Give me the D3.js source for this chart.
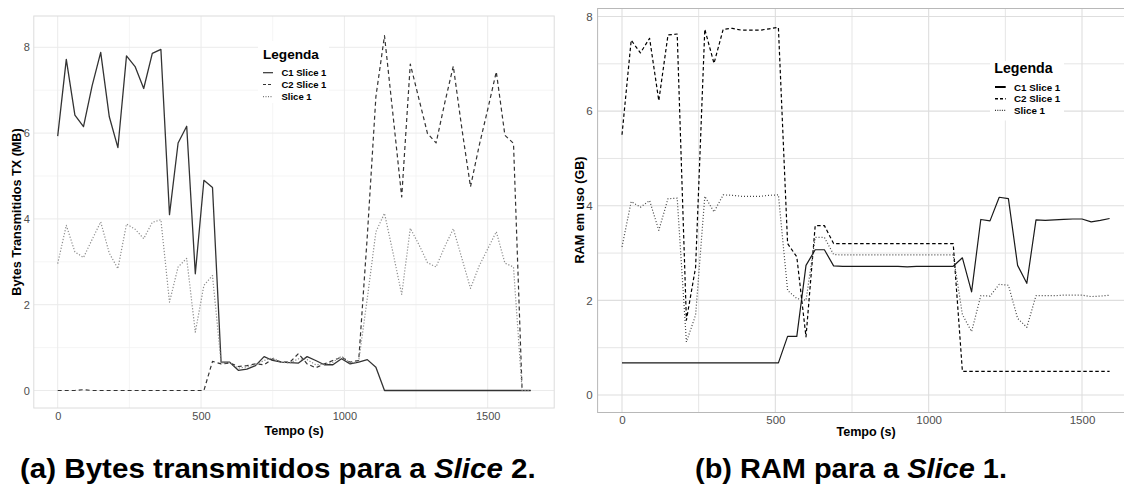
<!DOCTYPE html>
<html><head><meta charset="utf-8">
<script src="https://cdn.jsdelivr.net/npm/d3@7"></script>
<style>body{margin:0;background:#fff;}svg{display:block;font-family:"Liberation Sans",Arial,sans-serif;}</style>
</head><body><svg id="c" width="1124" height="491"></svg>
<script>
// ---------- data: panel (a) bytes transmitted (MB) ----------
const timeA = [0,30,60,90,120,150,180,210,240,270,300,330,360,390,420,450,480,510,540,570,600,630,660,690,720,750,780,810,840,870,900,930,960,990,1020,1050,1080,1110,1140,1170,1200,1230,1260,1290,1320,1350,1380,1410,1440,1470,1500,1530,1560,1590,1620,1650];
const c1A = [5.93,7.72,6.42,6.15,7.10,7.88,6.38,5.66,7.80,7.55,7.04,7.86,7.95,4.10,5.77,6.16,2.72,4.90,4.73,0.66,0.66,0.47,0.50,0.58,0.79,0.70,0.66,0.65,0.64,0.79,0.70,0.60,0.60,0.74,0.62,0.66,0.72,0.54,0,0,0,0,0,0,0,0,0,0,0,0,0,0,0,0,0,0];
const c2A = [0,0,0,0.02,0,0,0,0,0,0,0,0,0,0,0,0,0,0,0.68,0.62,0.64,0.56,0.58,0.62,0.60,0.74,0.66,0.66,0.86,0.62,0.53,0.62,0.70,0.78,0.66,0.70,3.60,6.85,8.27,6.40,4.51,7.61,6.80,5.99,5.77,6.70,7.56,6.10,4.75,5.70,6.55,7.43,5.95,5.76,0,0];
const s1A = [2.96,3.85,3.23,3.10,3.52,3.93,3.20,2.84,3.88,3.76,3.54,3.92,3.98,2.06,2.88,3.08,1.36,2.45,2.68,0.64,0.65,0.52,0.55,0.60,0.70,0.76,0.66,0.64,0.74,0.72,0.60,0.61,0.66,0.80,0.64,0.68,2.15,3.70,4.13,3.20,2.24,3.78,3.40,2.98,2.88,3.35,3.77,3.08,2.38,2.90,3.30,3.70,2.97,2.88,0,0];

// ---------- data: panel (b) RAM in use (GB) ----------
const timeB = [0,30,60,90,120,150,180,210,240,270,300,330,360,390,420,450,480,510,540,570,600,630,660,690,720,750,780,810,840,870,900,930,960,990,1020,1050,1080,1110,1140,1170,1200,1230,1260,1290,1320,1350,1380,1410,1440,1470,1500,1530,1560,1590];
const c1B = [0.68,0.68,0.68,0.68,0.68,0.68,0.68,0.68,0.68,0.68,0.68,0.68,0.68,0.68,0.68,0.68,0.68,0.68,1.24,1.24,2.74,3.07,3.07,2.73,2.72,2.72,2.72,2.72,2.72,2.72,2.72,2.71,2.72,2.72,2.72,2.72,2.72,2.90,2.18,3.71,3.68,4.18,4.15,2.74,2.36,3.70,3.69,3.70,3.71,3.72,3.72,3.66,3.69,3.73];
const c2B = [5.50,7.50,7.23,7.54,6.22,7.61,7.63,1.58,2.70,7.73,7.01,7.73,7.75,7.71,7.71,7.71,7.74,7.77,3.20,2.92,1.23,3.58,3.58,3.20,3.20,3.20,3.20,3.20,3.20,3.20,3.20,3.20,3.20,3.20,3.20,3.20,3.20,0.50,0.50,0.50,0.50,0.50,0.50,0.50,0.50,0.50,0.50,0.50,0.50,0.50,0.50,0.50,0.50,0.50];
const s1B = [3.13,4.09,3.97,4.11,3.48,4.15,4.16,1.12,1.69,4.20,3.87,4.23,4.22,4.20,4.20,4.20,4.22,4.23,2.21,2.04,2.00,3.33,3.33,2.97,2.96,2.96,2.96,2.96,2.96,2.96,2.96,2.96,2.96,2.96,2.96,2.96,2.96,1.70,1.34,2.10,2.09,2.34,2.32,1.62,1.43,2.10,2.10,2.10,2.11,2.11,2.11,2.08,2.09,2.11];

const seriesNames = ["C1 Slice 1","C2 Slice 1","Slice 1"];
const xTicks = [0,500,1000,1500];
const xMinor = [250,750,1250];
const yTicks = [0,2,4,6,8];
const yMinor = [1,3,5,7];

const svg = d3.select("#c");

function panel(o){
  const g = svg.append("g");
  const x = d3.scaleLinear().domain([0,1500]).range(o.xRange);
  const y = d3.scaleLinear().domain([0,8]).range(o.yRange);
  const L=o.box[0], T=o.box[1], R=o.box[2], B=o.box[3];
  const clipId = "clip"+o.id;
  svg.append("clipPath").attr("id",clipId).append("rect").attr("x",L).attr("y",T).attr("width",R-L).attr("height",B-T);
  const grid = g.append("g").attr("clip-path",`url(#${clipId})`);
  grid.selectAll(".ymin").data(yMinor).join("line").attr("x1",L).attr("x2",R).attr("y1",d=>y(d)).attr("y2",d=>y(d)).attr("stroke",o.gridMinor).attr("stroke-width",o.gwMinor);
  grid.selectAll(".xmin").data(xMinor).join("line").attr("y1",T).attr("y2",B).attr("x1",d=>x(d)).attr("x2",d=>x(d)).attr("stroke",o.gridMinor).attr("stroke-width",o.gwMinor);
  grid.selectAll(".ymaj").data(yTicks).join("line").attr("x1",L).attr("x2",R).attr("y1",d=>y(d)).attr("y2",d=>y(d)).attr("stroke",o.gridMajor).attr("stroke-width",o.gwMajor);
  grid.selectAll(".xmaj").data(xTicks).join("line").attr("y1",T).attr("y2",B).attr("x1",d=>x(d)).attr("x2",d=>x(d)).attr("stroke",o.gridMajor).attr("stroke-width",o.gwMajor);
  g.append("rect").attr("x",L).attr("y",T).attr("width",R-L).attr("height",B-T).attr("fill","none").attr("stroke",o.border).attr("stroke-width",1);

  // tick labels via axes
  const ax = g.append("g").attr("transform",`translate(0,${B})`)
    .call(d3.axisBottom(x).tickValues(xTicks).tickSize(0).tickFormat(d3.format("d")));
  ax.select(".domain").remove();
  ax.selectAll("text").attr("y",o.xLabY-B).attr("dy","0.35em").attr("fill","#4d4d4d").attr("font-size",o.tickFs);
  const ay = g.append("g").attr("transform",`translate(${L},0)`)
    .call(d3.axisLeft(y).tickValues(yTicks).tickSize(0).tickPadding(o.yPad).tickFormat(d3.format("d")));
  ay.select(".domain").remove();
  ay.selectAll("text").attr("fill","#4d4d4d").attr("font-size",o.tickFs);

  // lines
  const lines = g.append("g").attr("clip-path",`url(#${clipId})`);
  const mk = (vals)=> d3.line().x((d,i)=>x(o.time[i])).y(d=>y(d))(vals);
  o.series.forEach((s,i)=>{
    lines.append("path").attr("d",mk(s)).attr("fill","none")
      .attr("stroke",o.styles[i].color).attr("stroke-width",o.styles[i].w)
      .attr("stroke-dasharray",o.styles[i].dash).attr("stroke-linejoin","round");
  });

  // axis titles
  g.append("text").attr("x",o.xTitle[0]).attr("y",o.xTitle[1]).attr("dy","0.35em").attr("text-anchor","middle")
    .attr("font-weight","bold").attr("font-size",o.titleFs).attr("fill","#000").text("Tempo (s)");
  g.append("text").attr("transform",`translate(${o.yTitle[0]},${o.yTitle[1]}) rotate(-90)`).attr("dy","0.35em").attr("text-anchor","middle")
    .attr("font-weight","bold").attr("font-size",o.titleFs).attr("fill","#000").text(o.yLabel);

  // legend
  const lg = g.append("g");
  const lb = o.legend;
  lg.append("rect").attr("x",lb.box[0]).attr("y",lb.box[1]).attr("width",lb.box[2]-lb.box[0]).attr("height",lb.box[3]-lb.box[1]).attr("fill","#fff");
  lg.append("text").attr("x",lb.tx).attr("y",lb.ty).attr("dy","0.35em").attr("font-weight","bold").attr("font-size",lb.tfs).attr("fill","#000").text("Legenda");
  seriesNames.forEach((n,i)=>{
    const cy = lb.iy[i];
    lg.append("line").attr("x1",lb.kx[0]).attr("x2",lb.kx[1]).attr("y1",cy).attr("y2",cy)
      .attr("stroke",lb.kcol[i]).attr("stroke-width",lb.kw[i]).attr("stroke-dasharray",lb.kdash[i]);
    lg.append("text").attr("x",lb.lx).attr("y",cy).attr("dy","0.36em").attr("font-weight","bold").attr("font-size",lb.lfs).attr("fill","#000").text(n);
  });
}

panel({
  id:"A", time:timeA, series:[c1A,c2A,s1A],
  xRange:[57.7,487.7], yRange:[390.5,47.3],
  box:[33.8,16,554.2,408],
  gridMajor:"#ebebeb", gridMinor:"#f3f3f3", gwMajor:1, gwMinor:0.8, border:"#dcdcdc",
  xLabY:416, yPad:4, tickFs:11,
  styles:[{color:"#333",w:1.3,dash:null},{color:"#333",w:1.2,dash:"4,3"},{color:"#8c8c8c",w:1.2,dash:"1.2,1.8"}],
  xTitle:[294,431], yTitle:[17,212], yLabel:"Bytes Transmitidos TX (MB)", titleFs:12.6,
  legend:{box:[258,41,329,103], tx:263, ty:54, tfs:13.6, iy:[72.7,84.5,96.7], kx:[263,273], kcol:["#333","#333","#777"], kw:[1.2,1.2,1.2], kdash:[null,"3,2","1,1.5"], lx:281.5, lfs:9.5}
});

panel({
  id:"B", time:timeB, series:[c1B,c2B,s1B],
  xRange:[622,1082], yRange:[395,16.5],
  box:[597.6,8.5,1140,412.5],
  gridMajor:"#dedede", gridMinor:"#e5e5e5", gwMajor:1.1, gwMinor:1, border:"#b8b8b8",
  xLabY:420, yPad:5, tickFs:11.5,
  styles:[{color:"#1a1a1a",w:1.2,dash:null},{color:"#000",w:1.2,dash:"3.5,2.5"},{color:"#444",w:1.2,dash:"1,2"}],
  xTitle:[866,432], yTitle:[580,210], yLabel:"RAM em uso (GB)", titleFs:12.6,
  legend:{box:[990,61,1064,120.5], tx:994.3, ty:67.7, tfs:14.2, iy:[87,98.7,110.3], kx:[995,1005.7], kcol:["#000","#000","#333"], kw:[2,1.5,1.2], kdash:[null,"3,2","1,1.3"], lx:1014, lfs:9.8}
});

// captions (subfigure labels)
function caption(x0, targetW, baseline, parts){
  const g = svg.append("g");
  const t = g.append("text").attr("x",0).attr("y",0).attr("font-weight","bold").attr("font-size",28).attr("fill","#000");
  parts.forEach(p=>{ t.append("tspan").attr("font-style",p.it?"italic":"normal").text(p.s); });
  const w = t.node().getComputedTextLength();
  g.attr("transform",`translate(${x0},${baseline}) scale(${targetW/w},1)`);
}
caption(20, 516, 478, [{s:"(a) Bytes transmitidos para a "},{s:"Slice",it:true},{s:" 2."}]);
caption(695, 312, 478, [{s:"(b) RAM para a "},{s:"Slice",it:true},{s:" 1."}]);
</script></body></html>
